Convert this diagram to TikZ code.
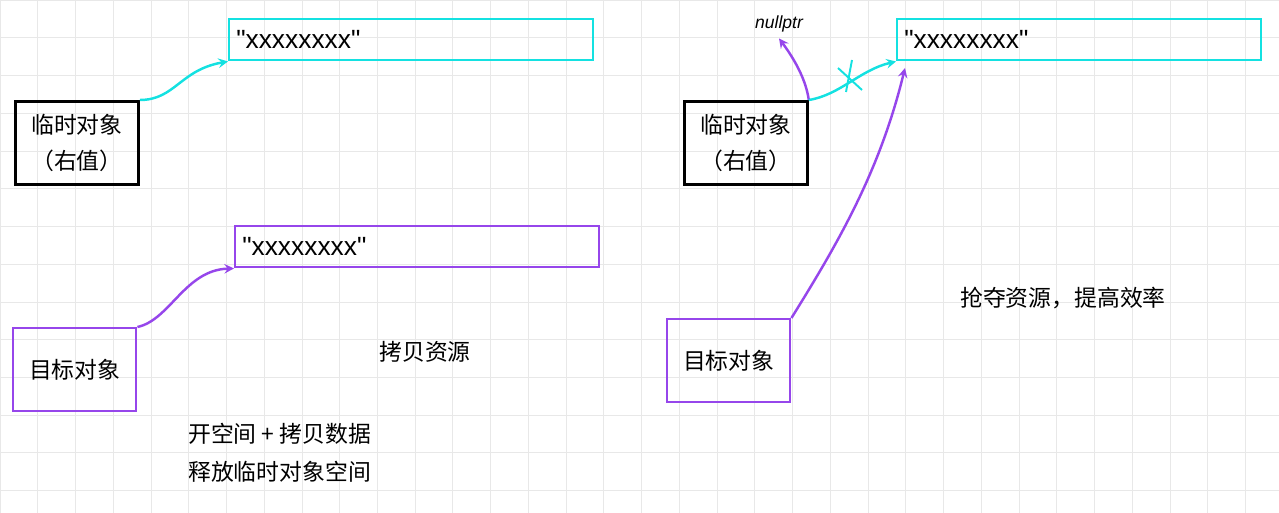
\documentclass[tikz,border=0pt]{standalone}
\usepackage{fontspec}
\setmainfont{Liberation Sans}
\newfontfamily\strfont[Ligatures=ResetAll]{Liberation Sans}
\newfontfamily\cjk{Noto Sans CJK SC}
\definecolor{cy}{RGB}{20,225,225}
\definecolor{pu}{RGB}{150,70,235}
\begin{document}
\begin{tikzpicture}[x=0.02cm,y=-0.02cm,
  cy/.style={draw=cy,line width=1.4pt},
  pu/.style={draw=pu,line width=1.4pt},
  bk/.style={draw=black,line width=1.6pt},
  strbox/.style={minimum height=0.82cm,inner sep=4pt,anchor=north west,text width=7.0cm,align=left,font=\strfont\fontsize{15}{18}\selectfont},
  objbox/.style={minimum width=2.46cm,minimum height=1.66cm,align=center,font=\cjk\fontsize{13}{20}\selectfont,anchor=north west},
  lbl/.style={font=\cjk\fontsize{13}{16}\selectfont},
  arr/.style={-stealth,line width=1.2pt}]
\useasboundingbox (0,0) rectangle (1279,513);
\draw[gray!18,line width=0.5pt] (0,0) grid[step=0.755cm] (1279,513);
% left
\node[strbox,cy] (s1) at (228,18) {"xxxxxxxx"};
\node[objbox,bk] (t1) at (14,100) {临时对象\\（右值）};
\node[strbox,pu] (s2) at (234,225) {"xxxxxxxx"};
\node[objbox,pu] (g1) at (12,327) {目标对象};
\draw[arr,cy] (t1.north east) .. controls (175,100) and (180,70) .. (s1.south west);
\draw[arr,pu] (g1.north east) .. controls (170,320) and (185,270) .. (s2.south west);
\node[lbl] (c1) at (425,352) {拷贝资源};
\node[lbl,anchor=west] (c2) at (182,434) {开空间 + 拷贝数据};
\node[lbl,anchor=west] (c3) at (182,472) {释放临时对象空间};
% right
\node[strbox,cy] (s3) at (896,18) {"xxxxxxxx"};
\node[objbox,bk] (t2) at (683,100) {临时对象\\（右值）};
\node[objbox,pu] (g2) at (666,318) {目标对象};
\node[font=\itshape\fontsize{10}{12}\selectfont] (np) at (779,24) {nullptr};
\draw[arr,pu] (t2.north east) .. controls (806,80) and (795,60) .. (np.south);
\draw[arr,cy] (t2.north east) .. controls (840,95) and (860,70) .. (s3.south west);
\coordinate (xa) at (838,68); \coordinate (xb) at (862,90);
\coordinate (xc) at (852,60); \coordinate (xd) at (846,92);
\draw[cy,line width=1.1pt] (xa)--(xb) (xc)--(xd);
\draw[arr,pu] (g2.north east) .. controls (840,240) and (880,170) .. (905,68);
\node[lbl] (c4) at (1063,298) {抢夺资源，提高效率};
\end{tikzpicture}
\end{document}
